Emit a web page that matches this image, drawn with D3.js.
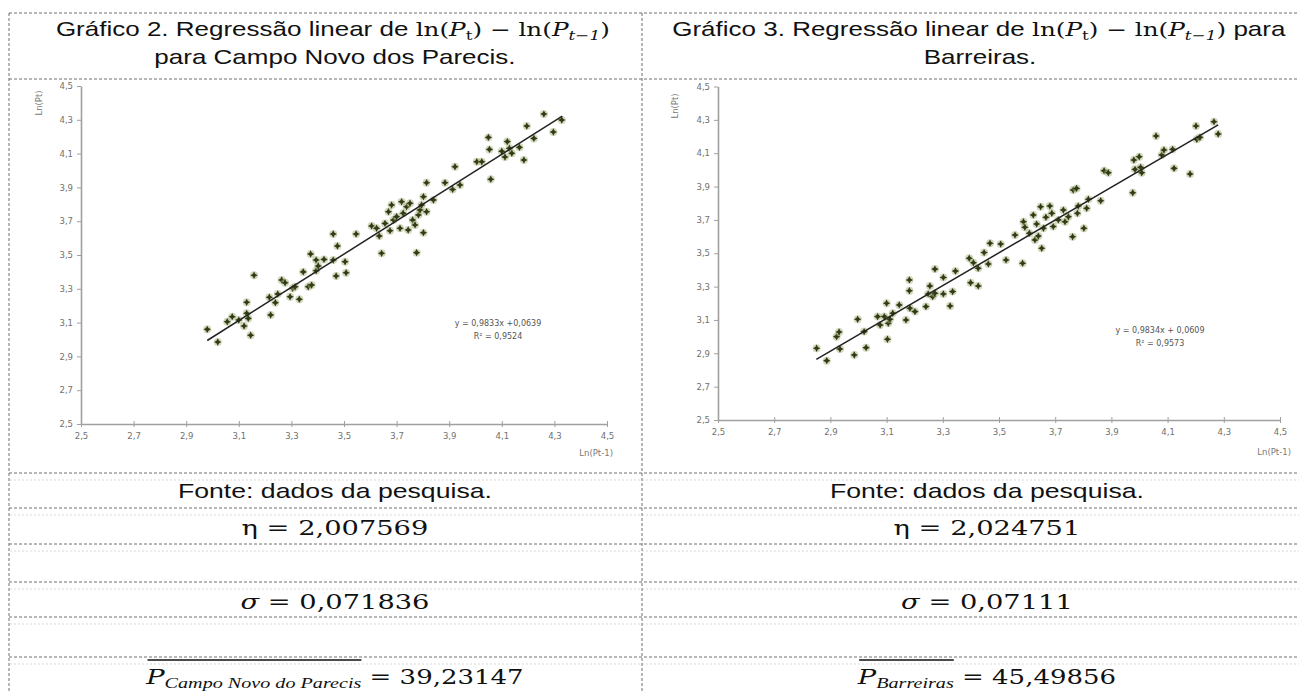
<!DOCTYPE html>
<html>
<head>
<meta charset="utf-8">
<script src="https://cdn.jsdelivr.net/npm/d3@7"></script>
<style>
  body { margin: 0; background: #fff; }
  svg { display: block; }
</style>
</head>
<body>
<div id="chart"></div>
<script>
// values
let tickValues = [2.5, 2.7, 2.9, 3.1, 3.3, 3.5, 3.7, 3.9, 4.1, 4.3, 4.5]

let campoX = [2.98, 3.02, 3.056, 3.075, 3.10, 3.12, 3.13, 3.13, 3.136, 3.145, 3.158, 3.216, 3.221, 3.239, 3.248,
  3.263, 3.276, 3.295, 3.305, 3.314, 3.33, 3.364, 3.377, 3.345, 3.394, 3.373, 3.394, 3.402, 3.424, 3.459,
  3.475, 3.459, 3.504, 3.47, 3.508, 3.546, 3.605, 3.624, 3.634, 3.643, 3.656, 3.669, 3.675, 3.681, 3.688,
  3.70, 3.713, 3.719, 3.725, 3.738, 3.744, 3.751, 3.761, 3.77, 3.776, 3.783, 3.789, 3.795, 3.802, 3.802,
  3.814, 3.814, 3.84, 3.884, 3.913, 3.922, 3.941, 4.005, 4.024, 4.049, 4.053, 4.058, 4.10, 4.112, 4.121,
  4.129, 4.138, 4.167, 4.184, 4.195, 4.222, 4.26, 4.296, 4.328]
let campoY = [3.06, 2.985, 3.105, 3.135, 3.115, 3.08, 3.155, 3.22, 3.125, 3.025, 3.38, 3.25, 3.145, 3.218, 3.269,
  3.352, 3.336, 3.253, 3.303, 3.312, 3.238, 3.312, 3.322, 3.40, 3.407, 3.506, 3.47, 3.435, 3.474, 3.624,
  3.553, 3.47, 3.46, 3.376, 3.395, 3.624, 3.672, 3.658, 3.612, 3.51, 3.687, 3.756, 3.644, 3.796, 3.707,
  3.727, 3.658, 3.815, 3.747, 3.786, 3.648, 3.806, 3.707, 3.678, 3.514, 3.737, 3.766, 3.796, 3.845, 3.632,
  3.756, 3.928, 3.825, 3.928, 3.888, 4.022, 3.914, 4.052, 4.052, 4.196, 4.125, 3.948, 4.114, 4.08, 4.171,
  4.131, 4.102, 4.137, 4.062, 4.263, 4.19, 4.334, 4.228, 4.299]

let barreirasX = [2.851, 2.887, 2.922, 2.931, 2.934, 2.985, 2.997, 3.020, 3.027, 3.068, 3.077, 3.092, 3.100, 3.103,
  3.106, 3.112, 3.122, 3.145, 3.169, 3.181, 3.181, 3.183, 3.201, 3.240, 3.248, 3.254, 3.264, 3.272, 3.272,
  3.302, 3.302, 3.326, 3.335, 3.345, 3.399, 3.426, 3.394, 3.409, 3.426, 3.447, 3.462, 3.468, 3.506, 3.525,
  3.557, 3.584, 3.587, 3.592, 3.608, 3.622, 3.628, 3.634, 3.640, 3.648, 3.652, 3.658, 3.667, 3.681, 3.688,
  3.693, 3.711, 3.729, 3.735, 3.747, 3.762, 3.764, 3.776, 3.779, 3.782, 3.802, 3.812, 3.818, 3.862, 3.874,
  3.889, 3.976, 3.980, 3.984, 3.999, 4.004, 4.008, 4.059, 4.079, 4.087, 4.118, 4.123, 4.180, 4.201, 4.204,
  4.215, 4.265, 4.280]
let barreirasY = [2.930, 2.856, 3.000, 3.028, 2.926, 2.890, 3.104, 3.030, 2.934, 3.120, 3.070, 3.120, 3.200, 2.984,
  3.080, 3.104, 3.140, 3.190, 3.100, 3.340, 3.275, 3.170, 3.150, 3.180, 3.256, 3.304, 3.240, 3.260, 3.405,
  3.355, 3.256, 3.184, 3.270, 3.393, 3.323, 3.304, 3.470, 3.443, 3.410, 3.504, 3.436, 3.560, 3.555, 3.460,
  3.609, 3.440, 3.689, 3.656, 3.620, 3.729, 3.580, 3.675, 3.603, 3.779, 3.530, 3.650, 3.716, 3.783, 3.740,
  3.660, 3.700, 3.759, 3.689, 3.719, 3.599, 3.879, 3.889, 3.740, 3.783, 3.650, 3.770, 3.824, 3.815, 3.995,
  3.983, 3.863, 4.059, 4.003, 4.079, 4.015, 3.983, 4.203, 4.089, 4.119, 4.123, 4.009, 3.975, 4.263, 4.183,
  4.195, 4.289, 4.215]

// slope, intercept and the x range the trend line covers
let campoFit = [0.9833, 0.0639]
let barreirasFit = [0.9834, 0.0609]
let campoFitRange = [2.98, 4.33]
let barreirasFitRange = [2.85, 4.28]
let campoEquation = ["y = 0,9833x +0,0639", "R² = 0,9524"]
let barreirasEquation = ["y = 0,9834x + 0,0609", "R² = 0,9573"]

let campoStats = ["2,007569", "0,071836", "39,23147"]
let barreirasStats = ["2,024751", "0,07111", "45,49856"]

let width = 1299, height = 691
let S = 1.3   // the picture is stretched sideways, text follows it

let svg = d3.select("#chart").append("svg")
    .attr("width", width)
    .attr("height", height)

// dashed table grid
let rowLines = [13, 79, 473, 508, 544, 582, 617, 657]
svg.selectAll(".shade")
  .data(rowLines.slice(2))
  .enter().append("line")
    .attr("x1", 10).attr("x2", width)
    .attr("y1", d => d + 7).attr("y2", d => d + 7)
    .attr("stroke", "#dadada")
    .attr("stroke-dasharray", "2,2")
svg.selectAll(".row")
  .data(rowLines)
  .enter().append("line")
    .attr("x1", 9).attr("x2", width)
    .attr("y1", d => d).attr("y2", d => d)
    .attr("stroke", "#707070")
    .attr("stroke-dasharray", "3,2")
svg.selectAll(".col")
  .data([9, 642])
  .enter().append("line")
    .attr("x1", d => d).attr("x2", d => d)
    .attr("y1", 13).attr("y2", height)
    .attr("stroke", "#707070")
    .attr("stroke-dasharray", "3,2")

let fonts = {
  sans: ["Liberation Sans, Arial, sans-serif", "normal"],
  math: ["DejaVu Serif, serif", "normal"],
  mathi: ["DejaVu Serif, serif", "italic"],
  ital: ["Liberation Serif, Times New Roman, serif", "italic"]
}

// text built from pieces [string, font, size, sub shift]
function richText(cx, baseline, pieces, overlineTo) {
  let g = svg.append("g")
  let t = g.append("text").attr("fill", "#111")
  let shift = 0
  pieces.forEach(p => {
    let dy = p[3] || 0
    t.append("tspan")
      .text(p[0])
      .attr("dy", dy - shift)
      .attr("font-family", fonts[p[1]][0])
      .attr("font-style", fonts[p[1]][1])
      .attr("font-size", p[2])
    shift = dy
  })
  let w = t.node().getComputedTextLength()
  if (overlineTo) {
    let spans = t.selectAll("tspan").nodes()
    let ow = 0
    for (let i = 0; i < overlineTo; i++) ow += spans[i].getComputedTextLength()
    g.append("line")
      .attr("x1", 1).attr("x2", ow)
      .attr("y1", -24).attr("y2", -24)
      .attr("stroke", "#111").attr("stroke-width", 1.4)
  }
  g.attr("transform", "translate(" + (cx - w * S / 2) + "," + baseline + ") scale(" + S + ",1)")
}

// header cells
function lnPieces() {
  return [["ln(", "math", 19], ["P", "mathi", 19], ["t", "math", 13, 4], [") − ln(", "math", 19],
    ["P", "mathi", 19], ["t−1", "mathi", 13, 4], [")", "math", 19]]
}
richText(333, 36, [["Gráfico 2. Regressão linear de ", "sans", 20]].concat(lnPieces()))
richText(335, 64, [["para Campo Novo dos Parecis.", "sans", 20]])
richText(979, 36, [["Gráfico 3. Regressão linear de ", "sans", 20]].concat(lnPieces(), [[" para", "sans", 20]]))
richText(980, 64, [["Barreiras.", "sans", 20]])

// rows under the charts
function statRows(cx, stats, place) {
  richText(cx, 498, [["Fonte: dados da pesquisa.", "sans", 20.5]])
  richText(cx, 535, [["η", "math", 21], [" = " + stats[0], "math", 21]])
  richText(cx, 609, [["σ", "mathi", 21], [" = " + stats[1], "math", 21]])
  richText(cx, 684, [["P", "mathi", 21], [place, "ital", 15.5, 4], [" = " + stats[2], "math", 20]], 2)
}
statRows(335, campoStats, "Campo Novo do Parecis")
statRows(987, barreirasStats, "Barreiras")

let fmt = d => d3.format(".1f")(d).replace(".", ",")

// four pointed star, like the spreadsheet marker
let star4 = {
  draw(context, size) {
    let r = Math.sqrt(size) * 0.75, k = r * 0.35
    context.moveTo(0, -r)
    context.lineTo(k, -k)
    context.lineTo(r, 0)
    context.lineTo(k, k)
    context.lineTo(0, r)
    context.lineTo(-k, k)
    context.lineTo(-r, 0)
    context.lineTo(-k, -k)
    context.closePath()
  }
}
let marker = d3.symbol().type(star4).size(24)

function drawScatter(box, xs, ys, fit, fitRange, equation) {
  let g = svg.append("g")
  let x = d3.scaleLinear().domain([2.5, 4.5]).range([box.left, box.right])
  let y = d3.scaleLinear().domain([2.5, 4.5]).range([box.bottom, box.top])

  let xAxis = g.append("g")
    .attr("transform", "translate(0," + box.bottom + ")")
    .call(d3.axisBottom(x).tickValues(tickValues).tickFormat(fmt).tickSizeInner(3).tickSizeOuter(0).tickPadding(6))
  xAxis.selectAll(".tick line").attr("y1", -3)

  let yAxis = g.append("g")
    .attr("transform", "translate(" + box.left + ",0)")
    .call(d3.axisLeft(y).tickValues(tickValues).tickFormat(fmt).tickSizeInner(4).tickSizeOuter(0).tickPadding(4))

  ;[xAxis, yAxis].forEach(a => {
    a.select(".domain").attr("stroke", "#a0a0a0").attr("stroke-width", 1.6)
    a.selectAll(".tick line").attr("stroke", "#a0a0a0")
    a.selectAll(".tick text")
      .attr("fill", "#707070")
      .attr("font-size", 8.5)
      .attr("font-family", "DejaVu Sans, sans-serif")
  })

  // axis titles
  g.append("text")
    .attr("transform", "translate(" + box.yTitle[0] + "," + box.yTitle[1] + ") rotate(-90)")
    .attr("text-anchor", "middle")
    .attr("font-family", "DejaVu Sans, sans-serif")
    .attr("font-size", 8.5)
    .attr("fill", "#7a7a7a")
    .text("Ln(Pt)")
  g.append("text")
    .attr("x", box.xTitle[0]).attr("y", box.xTitle[1])
    .attr("text-anchor", "end")
    .attr("font-family", "DejaVu Sans, sans-serif")
    .attr("font-size", 8.5)
    .attr("fill", "#7a7a7a")
    .text("Ln(Pt-1)")

  // points
  let pts = g.selectAll(".pt")
    .data(d3.zip(xs, ys))
    .enter().append("g")
      .attr("transform", d => "translate(" + x(d[0]) + "," + y(d[1]) + ")")
  pts.append("circle")
    .attr("r", 4)
    .attr("fill", "#a7b27c")
    .attr("opacity", 0.5)
  pts.append("path")
    .attr("d", marker)
    .attr("fill", "#2f3c16")

  // trend line
  let line = d3.line()
    .x(d => x(d))
    .y(d => y(fit[0] * d + fit[1]))
  g.append("path")
    .attr("d", line(fitRange))
    .attr("fill", "none")
    .attr("stroke", "#222")
    .attr("stroke-width", 1.5)

  g.selectAll(".eq")
    .data(equation)
    .enter().append("text")
      .attr("x", box.eq[0])
      .attr("y", (d, i) => box.eq[1] + i * 13)
      .attr("text-anchor", "middle")
      .attr("font-family", "DejaVu Sans, sans-serif")
      .attr("font-size", 8)
      .attr("fill", "#555")
      .text(d => d)
}

drawScatter({left: 81, right: 607, top: 86, bottom: 424, yTitle: [42, 103], xTitle: [613, 456], eq: [498, 326]},
  campoX, campoY, campoFit, campoFitRange, campoEquation)
drawScatter({left: 718, right: 1280, top: 86.5, bottom: 420, yTitle: [678, 106], xTitle: [1291, 455], eq: [1160, 333]},
  barreirasX, barreirasY, barreirasFit, barreirasFitRange, barreirasEquation)
</script>
</body>
</html>
